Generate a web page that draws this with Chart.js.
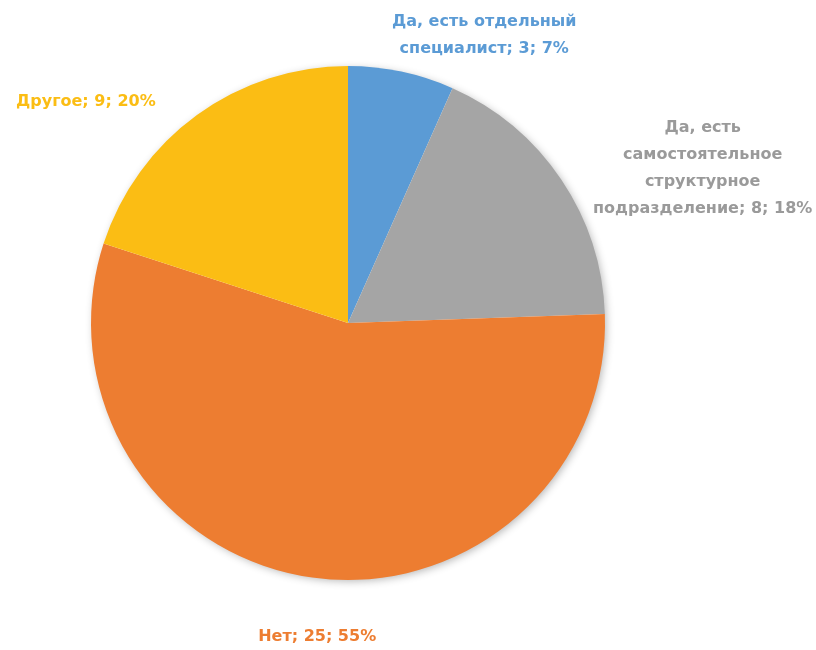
<!DOCTYPE html>
<html>
<head>
<meta charset="utf-8">
<script src="https://cdn.jsdelivr.net/npm/chart.js@4"></script>
<style>
  html, body { margin: 0; padding: 0; background: #fff; }
  #wrap { width: 816px; height: 650px; position: relative; }
</style>
</head>
<body>
<div id="wrap"><canvas id="chart"></canvas></div>
<script>
// DATA
const categories = [
    ["Да, есть отдельный", "специалист"],
    ["Да, есть", "самостоятельное", "структурное", "подразделение"],
    ["Нет"],
    ["Другое"],
];
const counts = [3, 8, 25, 9];
const percentLabels = ["7%", "18%", "55%", "20%"];
const colors = ["#5B9BD5", "#A5A5A5", "#ED7D31", "#FBBD14"];
const labelColors = ["#5B9BD5", "#9A9A9A", "#ED7D31", "#FBBD14"];

// label placement, in units of pie radius relative to pie center
const labelOffsets = [
    { x: 0.53, y: -1.12 },
    { x: 1.38, y: -0.60 },
    { x: -0.12, y: 1.22 },
    { x: -1.02, y: -0.86 },
];

// one soft shadow under the whole pie
const shadowPlugin = {
    id: "shadow",
    beforeDatasetsDraw(chart) {
        const arc = chart.getDatasetMeta(0).data[0];
        if (!arc) return;
        const { x, y, outerRadius } = arc.getProps(["x", "y", "outerRadius"], true);
        const ctx = chart.ctx;
        ctx.save();
        ctx.shadowColor = "rgba(0,0,0,0.30)";
        ctx.shadowBlur = 8;
        ctx.shadowOffsetX = 2;
        ctx.shadowOffsetY = 2;
        ctx.fillStyle = "#fff";
        ctx.beginPath();
        ctx.arc(x, y, outerRadius - 1, 0, Math.PI * 2);
        ctx.fill();
        ctx.restore();
    },
};

const labelPlugin = {
    id: "sliceLabels",
    afterDraw(chart) {
        const ctx = chart.ctx;
        const arcs = chart.getDatasetMeta(0).data;
        ctx.save();
        ctx.font = "bold 16px 'DejaVu Sans', sans-serif";
        ctx.textAlign = "center";
        ctx.textBaseline = "middle";
        const lineHeight = 27;
        arcs.forEach((arc, i) => {
            const { x, y, outerRadius } = arc.getProps(["x", "y", "outerRadius"], true);
            const lines = categories[i].slice();
            lines[lines.length - 1] += "; " + counts[i] + "; " + percentLabels[i];
            const cx = x + labelOffsets[i].x * outerRadius;
            const cy = y + labelOffsets[i].y * outerRadius;
            const top = cy - ((lines.length - 1) * lineHeight) / 2;
            ctx.fillStyle = labelColors[i];
            lines.forEach((line, j) => ctx.fillText(line, cx, top + j * lineHeight));
        });
        ctx.restore();
    },
};

new Chart(document.getElementById("chart"), {
    type: "pie",
    data: {
        labels: categories.map((c) => c.join(" ")),
        datasets: [
            {
                data: counts,
                backgroundColor: colors,
                borderWidth: 0,
            },
        ],
    },
    options: {
        responsive: true,
        maintainAspectRatio: false,
        animation: false,
        layout: { padding: { top: 66, bottom: 70, left: 91, right: 211 } },
        plugins: {
            legend: { display: false },
            tooltip: { enabled: false },
        },
    },
    plugins: [shadowPlugin, labelPlugin],
});
</script>
</body>
</html>
